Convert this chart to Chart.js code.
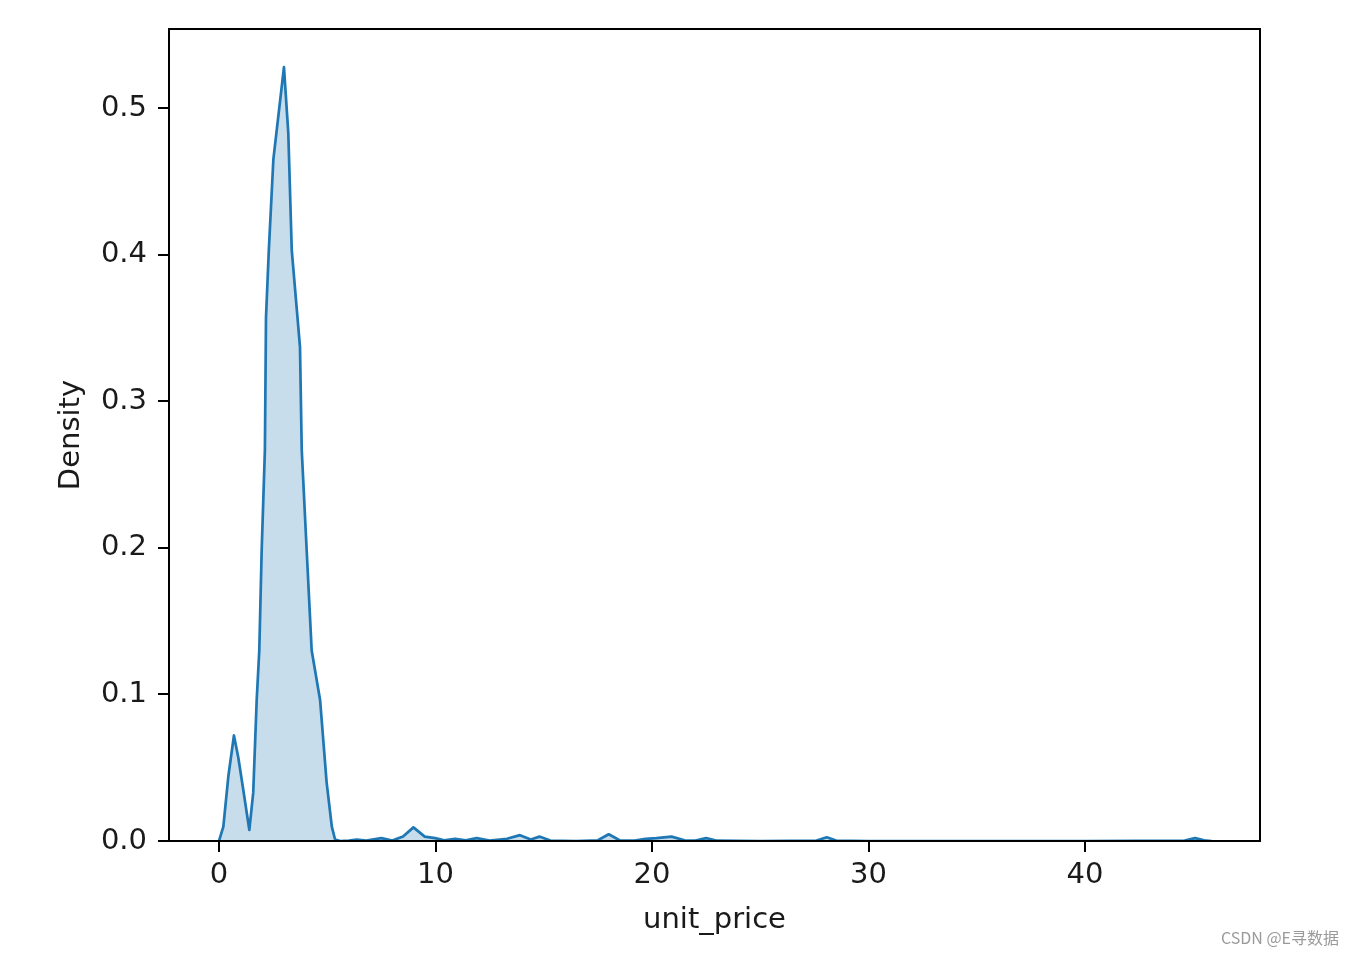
<!DOCTYPE html>
<html>
<head>
<meta charset="utf-8">
<script src="https://cdn.jsdelivr.net/npm/chart.js@4/dist/chart.umd.min.js"></script>
<style>
  body { margin: 0; background: #fff; }
  #wrap { position: relative; width: 1355px; height: 955px; }
  #mark {
    position: absolute; right: 16px; top: 925px;
    font: 16px "Noto Sans CJK SC", "DejaVu Sans", sans-serif; color: #9a9a9a;
  }
</style>
</head>
<body>
<div id="wrap">
  <canvas id="grafico" width="1355" height="955"></canvas>
  <div id="mark">CSDN @E寻数据</div>
</div>
<script>
// ===============================
// DADOS (densidade kde de unit_price)
// ===============================
const precos = [
  0, 0.2, 0.43, 0.69, 0.89, 1.12, 1.40, 1.58, 1.74, 1.86, 1.97, 2.12, 2.17, 2.30, 2.51,
  3.0, 3.2, 3.36, 3.62, 3.74, 3.82, 4.05, 4.28, 4.67, 4.97, 5.21, 5.36, 5.6,
  6.0, 6.36, 6.8, 7.5, 8.0, 8.5, 8.98, 9.5, 9.98, 10.4, 10.9, 11.4, 11.9, 12.5,
  13.3, 13.9, 14.4, 14.8, 15.3, 16.5, 17.5, 18.0, 18.5, 19.2, 19.7, 20.2, 20.9,
  21.5, 22.0, 22.5, 23.0, 25, 27.6, 28.07, 28.5, 30, 40, 44.6, 45.08, 45.5, 45.85
];
const densidade = [
  0, 0.0098, 0.044, 0.072, 0.057, 0.035, 0.0075, 0.033, 0.096, 0.13, 0.198, 0.267, 0.357, 0.403, 0.465,
  0.528, 0.483, 0.403, 0.358, 0.337, 0.267, 0.198, 0.13, 0.096, 0.04, 0.0098, 0.001, 0,
  0.0003, 0.001, 0.0003, 0.002, 0.0003, 0.003, 0.0093, 0.003, 0.002, 0.0005, 0.0015, 0.0005, 0.002, 0.0003,
  0.0015, 0.004, 0.001, 0.003, 0.0003, 0, 0.0005, 0.0046, 0.0005, 0.0003, 0.0015, 0.002, 0.003,
  0.0005, 0.0003, 0.002, 0.0002, 0, 0.0003, 0.0025, 0.0003, 0, 0, 0.0003, 0.002, 0.0004, 0
];
const ticksX = [0, 10, 20, 30, 40];
const ticksY = [0, 0.1, 0.2, 0.3, 0.4, 0.5];

const fonte = { family: "DejaVu Sans", size: 29 };

// moldura completa do eixo (estilo matplotlib)
const moldura = {
  id: "moldura",
  afterDraw(chart) {
    const { ctx, chartArea: a } = chart;
    ctx.save();
    ctx.strokeStyle = "#000";
    ctx.lineWidth = 2;
    ctx.strokeRect(a.left, a.top, a.right - a.left, a.bottom - a.top);
    ctx.restore();
  }
};

const ctx = document.getElementById("grafico").getContext("2d");
new Chart(ctx, {
  type: "line",
  data: {
    datasets: [{
      data: precos.map((x, i) => ({ x, y: densidade[i] })),
      borderColor: "#1f77b4",
      backgroundColor: "rgba(31,119,180,0.25)",
      borderWidth: 2.7,
      borderJoinStyle: "round",
      pointRadius: 0,
      fill: "origin",
      tension: 0
    }]
  },
  options: {
    responsive: false,
    animation: false,
    layout: { padding: { top: 29, right: 95, left: 0, bottom: 0 } },
    plugins: { legend: { display: false }, tooltip: { enabled: false } },
    scales: {
      x: {
        type: "linear",
        min: -2.31,
        max: 48.08,
        afterBuildTicks: s => { s.ticks = ticksX.map(v => ({ value: v })); },
        afterFit: s => { s.height = 114; },
        grid: { drawOnChartArea: false, drawTicks: true, tickLength: 11, color: "#000", lineWidth: 2 },
        border: { display: false },
        ticks: { color: "#1a1a1a", font: fonte, padding: 6, maxRotation: 0 },
        title: { display: true, text: "unit_price", color: "#1a1a1a", font: fonte, padding: { top: 0, bottom: 17 } }
      },
      y: {
        min: 0,
        max: 0.554,
        afterBuildTicks: s => { s.ticks = ticksY.map(v => ({ value: v })); },
        afterFit: s => { s.width = 169; },
        grid: { drawOnChartArea: false, drawTicks: true, tickLength: 11, color: "#000", lineWidth: 2 },
        border: { display: false },
        ticks: { color: "#1a1a1a", font: fonte, padding: 11, callback: v => v.toFixed(1) },
        title: { display: true, text: "Density", color: "#1a1a1a", font: fonte, padding: { top: 54, bottom: 0 } }
      }
    }
  },
  plugins: [moldura]
});
</script>
</body>
</html>
